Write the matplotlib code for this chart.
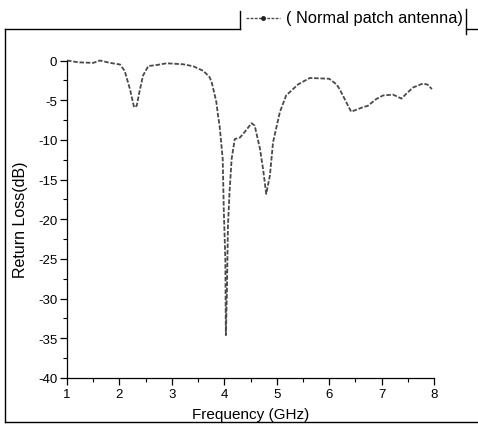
import matplotlib.pyplot as plt
import matplotlib.ticker as ticker
from matplotlib.lines import Line2D

plt.rcParams["font.family"] = ["Liberation Sans", "DejaVu Sans"]
plt.rcParams["axes.unicode_minus"] = False

# Return loss of the normal patch antenna
freq_ghz = [1.0, 1.22, 1.5, 1.63, 1.82, 2.01, 2.1, 2.2, 2.28, 2.33, 2.38, 2.45, 2.55,
            2.71, 2.9, 3.22, 3.41, 3.53, 3.6, 3.72, 3.76, 3.82, 3.85, 3.88, 3.91, 3.97,
            3.99, 4.02, 4.03, 4.05, 4.07, 4.1, 4.14, 4.2, 4.3, 4.39, 4.52, 4.58, 4.68,
            4.74, 4.8, 4.87, 4.93, 5.06, 5.18, 5.41, 5.63, 6.0, 6.14, 6.2, 6.33, 6.42,
            6.64, 6.74, 6.9, 7.03, 7.22, 7.38, 7.47, 7.6, 7.79, 7.88, 7.96]
return_loss = [0.0, -0.23, -0.3, 0.0, -0.3, -0.5, -1.3, -3.6, -5.9, -5.7, -4.0, -1.9, -0.7,
               -0.57, -0.35, -0.48, -0.73, -1.1, -1.3, -2.1, -2.75, -4.4, -5.3, -6.9, -8.2, -12.4,
               -18.7, -25.0, -34.6, -29.2, -20.8, -16.6, -12.4, -9.9, -9.7, -9.0, -7.9, -8.2, -11.1,
               -13.7, -16.8, -14.5, -10.3, -6.5, -4.4, -3.0, -2.2, -2.3, -3.0, -3.6, -5.3, -6.45,
               -5.9, -5.7, -4.85, -4.4, -4.3, -4.8, -4.2, -3.4, -2.9, -3.05, -3.6]
legend_label = "( Normal patch antenna)"

W, H = 478, 427
fig = plt.figure(figsize=(W / 100, H / 100), dpi=100)
fig.patch.set_facecolor("white")


def fx(px):
    return px / W


def fy(py):
    return 1 - py / H


ax = fig.add_axes([fx(67), fy(379), fx(434) - fx(67), fy(61.5) - fy(379)])
line_kw = dict(color="#4a4a4a", linestyle=(0, (2.5, 1)), linewidth=1.3)
ax.plot(freq_ghz, return_loss, clip_on=False, **line_kw)

ax.set_xlim(1, 8)
ax.set_ylim(-40, 0)
ax.xaxis.set_major_locator(ticker.MultipleLocator(1))
ax.xaxis.set_minor_locator(ticker.MultipleLocator(0.5))
ax.yaxis.set_major_locator(ticker.MultipleLocator(5))
ax.yaxis.set_minor_locator(ticker.MultipleLocator(2.5))
ax.spines["top"].set_visible(False)
ax.spines["right"].set_visible(False)
for s in ("left", "bottom"):
    ax.spines[s].set_linewidth(0.9)
ax.tick_params(which="major", direction="out", length=5, width=0.9, labelsize=9.5, pad=2)
ax.tick_params(which="minor", direction="out", length=3, width=0.8)
ax.set_xlabel("Frequency (GHz)", fontsize=11, labelpad=5)
ax.set_ylabel("Return Loss(dB)", fontsize=11.5)
ax.yaxis.set_label_coords(-(67 - 28) / (434 - 67), 0.5)

# outer frame and legend box
frame_kw = dict(color="black", linewidth=1.0, transform=fig.transFigure)
fig.add_artist(Line2D([fx(5), fx(5)], [fy(29.5), fy(422.5)], **frame_kw))
fig.add_artist(Line2D([fx(5), fx(478)], [fy(422.5), fy(422.5)], **frame_kw))
fig.add_artist(Line2D([fx(5), fx(240)], [fy(29.5), fy(29.5)], **frame_kw))
fig.add_artist(Line2D([fx(240), fx(240)], [fy(12), fy(29.5)], **frame_kw))
fig.add_artist(Line2D([fx(465.5), fx(465.5)], [fy(10), fy(35)], **frame_kw))
fig.add_artist(Line2D([fx(465.5), fx(478)], [fy(29.5), fy(29.5)], **frame_kw))

# legend sample
fig.add_artist(Line2D([fx(246), fx(280)], [fy(18.5), fy(18.5)], color="#4a4a4a",
                      linestyle=(0, (2, 1)), linewidth=1.0, transform=fig.transFigure))
fig.add_artist(Line2D([fx(263)], [fy(18.5)], color="#222222", marker="o", markersize=2.5,
                      linestyle="none", transform=fig.transFigure))
fig.text(fx(286), fy(18.5), legend_label, fontsize=11.8, ha="left", va="center")

fig.savefig("out.png", dpi=100)
